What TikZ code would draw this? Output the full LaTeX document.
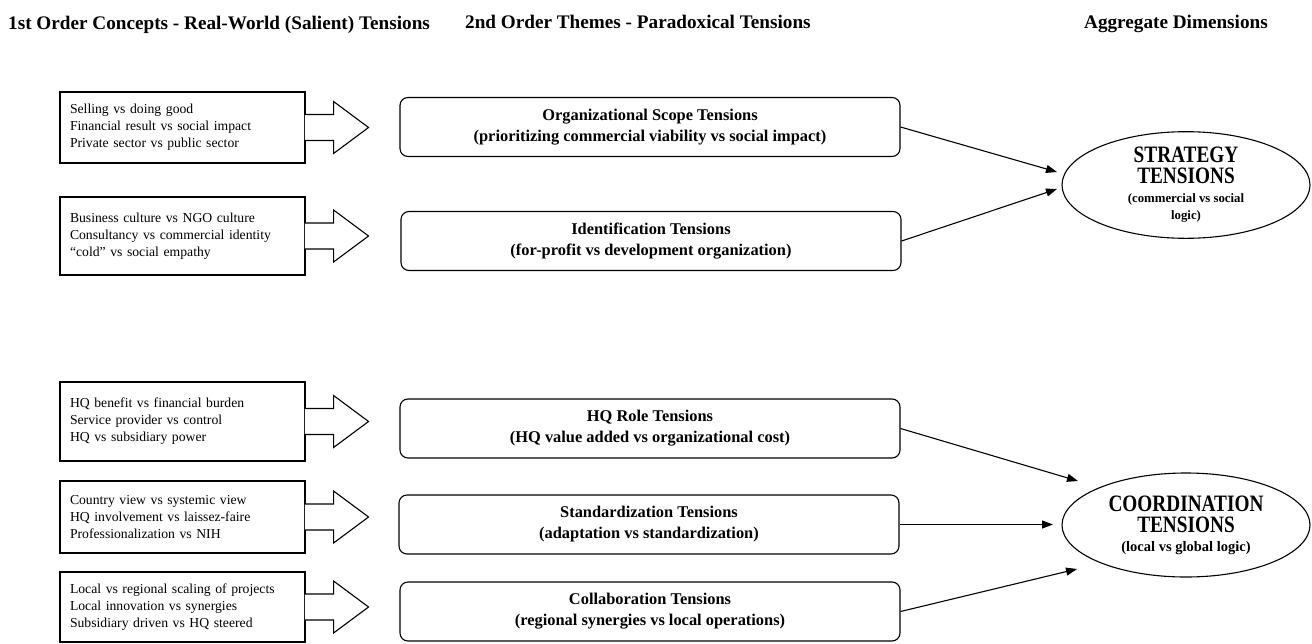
\documentclass[tikz,border=0pt]{standalone}
\usepackage{fontspec}
\setmainfont{Liberation Serif}
\newfontfamily\condensedfont[FakeStretch=0.82]{Liberation Serif}
\usetikzlibrary{arrows.meta,shapes.geometric,calc}
\begin{document}
\begin{tikzpicture}[x=1pt,y=-1pt,
  conceptbox/.style={draw,line width=1.1pt,rectangle,minimum width=245pt,text width=225pt,align=left,inner sep=0pt,font=\fontsize{13.7}{17}\selectfont},
  themebox/.style={draw,line width=1.1pt,rounded corners=8pt,minimum width=500pt,minimum height=59pt,align=center,inner sep=0pt,font=\fontsize{16.4}{21}\selectfont\bfseries},
  dimension/.style={draw,line width=1.1pt,ellipse,minimum width=248pt,minimum height=104pt,inner sep=0pt,align=center,font=\fontsize{12.5}{17}\selectfont},
  dimtitle/.style={},
  header/.style={font=\fontsize{19.2}{22}\selectfont\bfseries,inner sep=0pt},
  link/.style={line width=1.1pt,-{Triangle[length=11pt,width=8pt]}},
  blockarrow/.style={line width=1.1pt,fill=white,line join=miter}
]
\useasboundingbox (0,0) rectangle (1312,643);
\newcommand\blockarr[1]{\draw[blockarrow] ($(#1.east)+(-0.6,-13)$) -- ($(#1.east)+(28,-13)$) -- ($(#1.east)+(28,-26)$) -- ($(#1.east)+(63,0)$) -- ($(#1.east)+(28,26)$) -- ($(#1.east)+(28,13)$) -- ($(#1.east)+(-0.6,13)$);}
\newcommand\dimbig{\condensedfont\bfseries\fontsize{23.5}{17}\selectfont}
\newcommand\dimsmall[1]{\bfseries\fontsize{#1}{17}\selectfont}

% headers
\node[header,anchor=base west] (h1) at (8,29) {1st Order Concepts - Real-World (Salient) Tensions};
\node[header,anchor=base west] (h2) at (465,28) {2nd Order Themes - Paradoxical Tensions};
\node[header,anchor=base east] (h3) at (1268,28) {Aggregate Dimensions};

% first order concept boxes
\node[conceptbox,minimum height=71pt] (c1) at (182.5,127.5) {Selling vs doing good\\Financial result vs social impact\\Private sector vs public sector};
\node[conceptbox,minimum height=78pt] (c2) at (182.5,236) {Business culture vs NGO culture\\Consultancy vs commercial identity\\``cold'' vs social empathy};
\node[conceptbox,minimum height=79pt] (c3) at (182.5,421.5) {HQ benefit vs financial burden\\Service provider vs control\\HQ vs subsidiary power};
\node[conceptbox,minimum height=72pt] (c4) at (182.5,517) {Country view vs systemic view\\HQ involvement vs laissez-faire\\Professionalization vs NIH};
\node[conceptbox,minimum height=70pt] (c5) at (182.5,607) {Local vs regional scaling of projects\\Local innovation vs synergies\\Subsidiary driven vs HQ steered};

\blockarr{c1}
\blockarr{c2}
\blockarr{c3}
\blockarr{c4}
\blockarr{c5}

% second order themes
\node[themebox] (t1) at (650,127) {Organizational Scope Tensions\\(prioritizing commercial viability vs social impact)};
\node[themebox] (t2) at (651,241) {Identification Tensions\\(for-profit vs development organization)};
\node[themebox] (t3) at (650,428.5) {HQ Role Tensions\\(HQ value added vs organizational cost)};
\node[themebox] (t4) at (649,524.5) {Standardization Tensions\\(adaptation vs standardization)};
\node[themebox] (t5) at (650,611.5) {Collaboration Tensions\\(regional synergies vs local operations)};

% aggregate dimensions
\node[dimension] (strat) at (1186,185) {\dimbig STRATEGY\\[4pt]\dimbig TENSIONS\\[2pt]\dimsmall{12.8}(commercial vs social\\\dimsmall{12.8}logic)};
\node[dimension] (coord) at (1186,525) {\dimbig COORDINATION\\[4pt]\dimbig TENSIONS\\[2pt]\dimsmall{14.5}(local vs global logic)};

% connector end points
\coordinate (s1) at (1057,172);
\coordinate (s2) at (1057,189);
\coordinate (k1) at (1078,481);
\coordinate (k2) at (1053,524.5);
\coordinate (k3) at (1077,569);

\draw[link] (t1.east) -- (s1);
\draw[link] (t2.east) -- (s2);
\draw[link] (t3.east) -- (k1);
\draw[link] (t4.east) -- (k2);
\draw[link] (t5.east) -- (k3);
\end{tikzpicture}
\end{document}
